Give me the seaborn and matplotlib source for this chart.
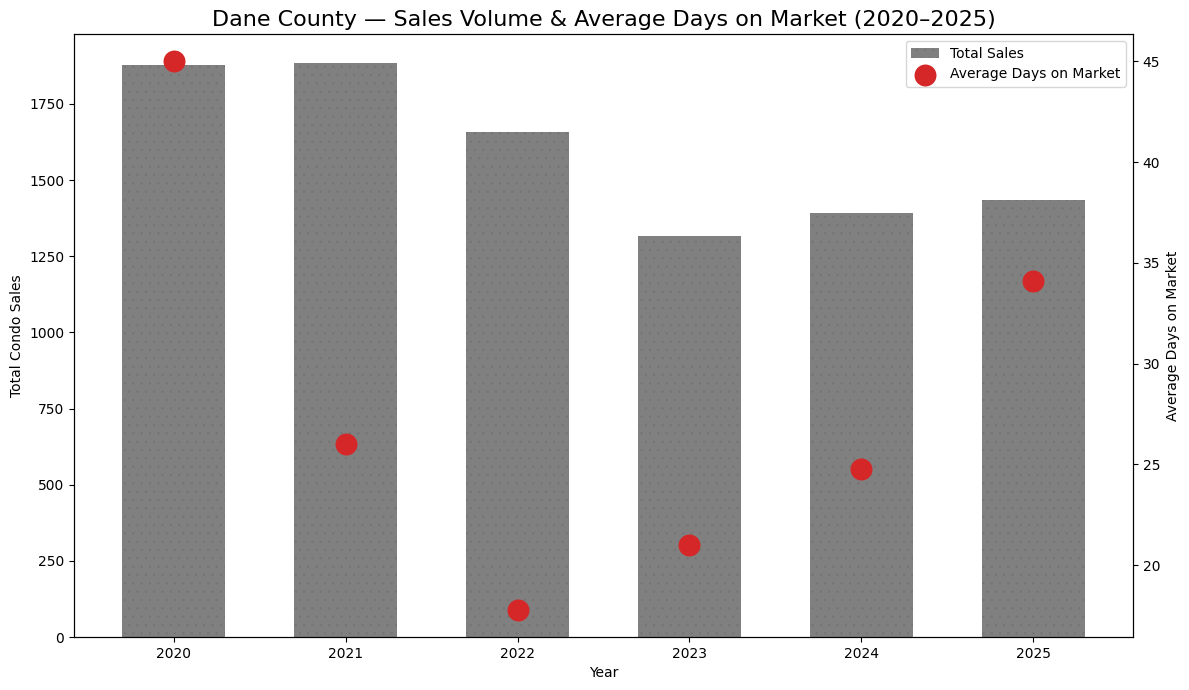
import matplotlib
matplotlib.use("Agg")
import matplotlib.pyplot as plt
import seaborn as sns
import pandas as pd
import numpy as np

years = ["2020", "2021", "2022", "2023", "2024", "2025"]
total_sales = [1878, 1885, 1658, 1317, 1392, 1435]
avg_dom = [45.0, 26.0, 17.8, 21.0, 24.8, 34.1]

df = pd.DataFrame({"Year": years, "Sales": total_sales, "DOM": avg_dom})
df["pos"] = np.arange(len(years))

plt.rcParams["hatch.linewidth"] = 0.4

fig, ax = plt.subplots(figsize=(11.89, 6.9), dpi=100)
sns.barplot(data=df, x="Year", y="Sales", color="#808080", saturation=1,
            width=0.6, ax=ax, label="Total Sales", zorder=2)
if ax.get_legend() is not None:
    ax.get_legend().remove()
for p in ax.patches:
    p.set_hatch("..")
    p.set_edgecolor("#747474")
    p.set_linewidth(0)
ax.set_xlim(-0.58, len(years) - 1 + 0.58)
ax.set_ylim(0, max(total_sales) * 1.05)
ax.set_xlabel("Year")
ax.set_ylabel("Total Condo Sales")

ax2 = ax.twinx()
sns.scatterplot(data=df, x="pos", y="DOM", color="#d62728", s=250,
                edgecolor="#d62728", linewidth=0, ax=ax2,
                label="Average Days on Market", zorder=3, legend=False)
rng = max(avg_dom) - min(avg_dom)
ax2.set_ylim(min(avg_dom) - 0.05 * rng, max(avg_dom) + 0.05 * rng)
ax2.set_ylabel("Average Days on Market")
ax2.set_xlim(-0.58, len(years) - 1 + 0.58)

h1, l1 = ax.get_legend_handles_labels()
h2, l2 = ax2.get_legend_handles_labels()
ax2.legend(h1 + h2, l1 + l2, loc="upper right")

ax.set_title("Dane County \u2014 Sales Volume & Average Days on Market (2020\u20132025)",
             fontsize=16)
fig.subplots_adjust(left=0.0622, right=0.9529, top=0.9507, bottom=0.0768)
fig.savefig("out.png", dpi=100)
